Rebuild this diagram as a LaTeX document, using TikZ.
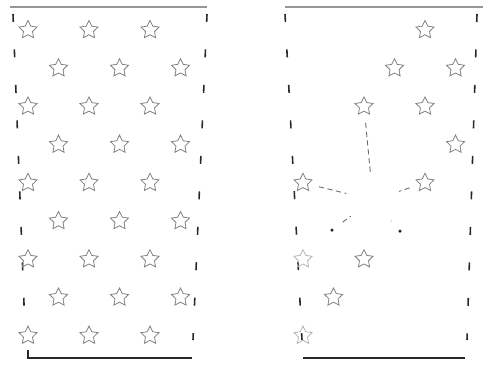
\documentclass[tikz,border=0pt]{standalone}
\definecolor{ScanGray}{RGB}{105,105,105}
\definecolor{EdgeDark}{RGB}{40,40,40}
\usetikzlibrary{
    shapes.geometric,
    calc,
}

\begin{document}
\begin{tikzpicture}[x=0.02cm, y=-0.02cm,
        site/.style={star, star points=5, star point ratio=2, draw=ScanGray!85, line width=0.45pt, minimum size=0.38cm, inner sep=0pt},
        faint/.style={site, draw=ScanGray!50},
        remnant/.style={circle, fill=EdgeDark, inner sep=0pt, minimum size=0.07cm},
        edgeside/.style={EdgeDark, line width=0.9pt, dash pattern=on 0.16cm off 0.55cm},
        edgetop/.style={ScanGray!70, line width=0.6pt},
        edgebottom/.style={EdgeDark, line width=1.3pt},
        jump/.style={ScanGray, densely dashed, line width=0.5pt, shorten <=0.22cm, shorten >=0.55cm}]
        \useasboundingbox (0,0) rectangle (483,366);
        % left panel: the full lattice
        \draw[edgetop] (10,7) -- (207,7);
        \draw[edgeside] (13,14) -- (25,330);
        \draw[edgeside] (207,14) -- (193,340);
        \draw[edgebottom] (28,350) -- (28,358) -- (192,358);
        \foreach \r in {0,...,8}
            \foreach \c in {0,1,2}
                \node[site] (L-\r-\c) at ({28+30.5*mod(\r,2)+61*\c}, {30+38.2*\r}) {};
        % right panel: sites left after the removal
        \draw[edgetop] (285,7) -- (483,7);
        \draw[edgeside] (285,14) -- (302,340);
        \draw[edgeside] (477,14) -- (467,340);
        \draw[edgebottom] (303,358) -- (465,358);
        \foreach \r/\c in {0/2,1/1,1/2,2/1,2/2,3/2,4/0,4/2,6/1,7/0}
            \node[site] (R-\r-\c) at ({303+30.5*mod(\r,2)+61*\c}, {30+38.2*\r}) {};
        \foreach \r/\c in {6/0,8/0}
            \node[faint] (R-\r-\c) at ({303+30.5*mod(\r,2)+61*\c}, {30+38.2*\r}) {};
        \node[remnant] (R-5-0) at (332,230) {};
        \node[remnant] (R-5-1) at (400,231) {};
        \coordinate (void) at (373,200);
        \foreach \n in {R-2-1,R-4-0,R-4-2,R-5-0,R-5-1}
            \draw[jump] (\n) -- (void);
    \end{tikzpicture}
\end{document}
